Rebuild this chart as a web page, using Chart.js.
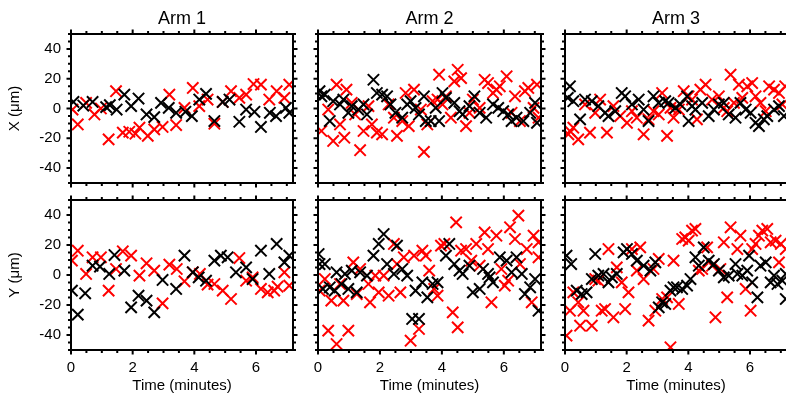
<!DOCTYPE html>
<html>
<head>
<meta charset="utf-8">
<script src="https://cdn.jsdelivr.net/npm/chart.js@4.4.1/dist/chart.umd.min.js"></script>
<style>
  html, body { margin: 0; padding: 0; background: #fff; width: 786px; height: 398px; overflow: hidden; }
  canvas { position: absolute; left: 0; top: 0; }
</style>
</head>
<body>
<script>
// Axis labels and ticks
const armTitles = ['Arm 1', 'Arm 2', 'Arm 3'];
const rowTitles = ['X (\u03bcm)', 'Y (\u03bcm)'];
const xTitle = 'Time (minutes)';
const xTicks = [0, 2, 4, 6];
const yTicks = [-40, -20, 0, 20, 40];

// Data: [time (min), displacement (um)]
const arm1_x_black = [[0.08,4.4],[0.40,2],[0.70,4.4],[1.14,0.9],[1.26,2.2],[1.48,-0.7],[1.73,9.3],[1.95,1.6],[2.19,6.7],[2.45,-4],[2.70,-5.8],[2.92,3.8],[3.17,0.4],[3.41,-2.9],[3.71,-2.2],[3.92,-5.1],[4.16,6],[4.38,9.8],[4.65,-8.4],[4.92,4.4],[5.14,6],[5.46,-8.9],[5.68,-0.7],[5.95,-2.2],[6.16,-12.4],[6.45,-2.9],[6.65,-5.1],[6.97,0.4],[7.08,-2.9]];
const arm1_x_red = [[0.05,-0.7],[0.22,-10.7],[0.49,3.8],[0.76,-4],[0.97,0],[1.22,-20.7],[1.46,11.6],[1.68,-16.2],[1.89,-15.6],[2.09,-16.9],[2.22,-12.9],[2.49,-18.4],[2.70,-14],[2.97,-12.4],[3.19,9.3],[3.41,-11.1],[3.68,0.4],[3.95,13.8],[4.16,1.6],[4.43,6],[4.65,-10.2],[4.92,4.4],[5.19,11.6],[5.46,7.1],[5.68,9.3],[5.92,16.4],[6.16,16],[6.43,6],[6.67,11.6],[6.92,7.1],[7.08,16]];

const arm2_x_black = [[0.05,11.6],[0.11,8.2],[0.22,9.3],[0.38,-8.4],[0.49,4.9],[0.71,2.7],[0.82,6],[0.98,-2.9],[1.09,1.6],[1.30,-0.7],[1.47,2.7],[1.58,-4],[1.79,19.3],[1.90,10.4],[2.07,9.3],[2.23,8.2],[2.34,2.7],[2.50,-2.9],[2.72,-6.2],[2.88,2.7],[2.99,4.9],[3.15,0.4],[3.26,-4],[3.42,8.2],[3.48,-8.4],[3.64,-8.4],[3.80,0.4],[3.91,-8.4],[4.02,10.4],[4.13,7.1],[4.40,3.8],[4.57,-1.8],[4.67,-4],[4.89,1.6],[5.05,8.2],[5.22,-2.9],[5.43,-6.2],[5.65,2.7],[5.82,0.4],[5.98,-1.8],[6.14,-4],[6.25,-8.4],[6.41,-6.2],[6.63,-8.4],[6.85,-2.9],[7.01,3.8],[7.07,-9.6]];
const arm2_x_red = [[0.11,-15.1],[0.33,-0.7],[0.49,-21.8],[0.60,16],[0.71,-10.7],[0.85,-19.6],[0.92,12.7],[1.09,3.8],[1.20,-4],[1.36,-28],[1.47,-15.1],[1.63,1.6],[1.74,-10.7],[1.90,-16.2],[2.07,-17.3],[2.28,2.7],[2.45,-6.2],[2.55,-18.4],[2.72,-8.4],[2.83,10.4],[2.93,-11.8],[3.10,12.7],[3.32,-0.7],[3.42,-29.1],[3.53,-10.7],[3.70,4.9],[3.86,6],[3.91,22.7],[4.02,2.7],[4.13,8.2],[4.29,-6.2],[4.40,18.2],[4.51,26],[4.62,20.4],[4.78,-11.8],[4.89,-2.9],[5.00,6],[5.22,0.4],[5.38,19.3],[5.49,17.1],[5.65,10.4],[5.76,12.7],[5.87,14.9],[6.09,21.6],[6.25,-2.9],[6.36,8.2],[6.52,-8.4],[6.68,11.6],[6.79,13.8],[6.96,0.4],[7.07,16],[7.12,-6.2]];

const arm3_x_black = [[0.16,14.9],[0.09,7.1],[0.27,4.9],[0.49,-7.3],[0.65,6],[0.87,4.9],[1.08,1.6],[1.30,-2.9],[1.41,-5.1],[1.63,-1.8],[1.84,10.4],[1.95,8.2],[2.17,2.7],[2.39,6],[2.55,-0.7],[2.71,-8.4],[2.87,8.2],[3.04,3.8],[3.25,4.9],[3.36,3.8],[3.58,0.4],[3.74,2.7],[3.96,8.2],[4.01,-8.4],[4.12,1.6],[4.23,-0.7],[4.45,3.8],[4.66,-5.1],[4.83,-0.7],[4.99,2.7],[5.15,3.8],[5.31,-4],[5.53,-6.2],[5.69,3.8],[5.86,-0.7],[6.02,-2.9],[6.18,-9.6],[6.29,-11.8],[6.45,-7.3],[6.56,-5.1],[6.78,-0.7],[6.94,1.6],[7.10,-5.1]];
const arm3_x_red = [[0.11,-17.3],[0.16,-15.1],[0.27,-12.9],[0.43,-20.7],[0.65,2.7],[0.81,-16.2],[0.98,-2.9],[1.14,6],[1.36,-16.2],[1.57,1.6],[1.79,-5.1],[2.01,-9.6],[2.17,-1.8],[2.33,-6.2],[2.55,-17.3],[2.71,-7.3],[2.87,-1.8],[3.04,-4],[3.15,10.4],[3.31,-18.4],[3.42,0.4],[3.52,-6.2],[3.69,-0.7],[3.85,11.6],[4.01,8.2],[4.12,6],[4.28,-7.3],[4.39,12.7],[4.56,16],[4.77,6],[4.99,8.2],[5.15,0.4],[5.26,-1.8],[5.37,22.7],[5.48,3.8],[5.64,16],[5.75,7.1],[5.91,14.9],[6.07,17.1],[6.18,8.2],[6.34,3.8],[6.51,-1.8],[6.62,14.9],[6.78,12.7],[6.94,10.4],[7.05,2.7],[7.14,14.9]];

const arm1_y_black = [[0.03,-10.4],[0.22,-26.4],[0.46,-12.2],[0.70,6.2],[0.94,5.6],[1.24,0.7],[1.41,13.3],[1.73,2.9],[1.95,-21.6],[2.19,-13.8],[2.45,-17.1],[2.70,-24.9],[2.97,-3.3],[3.41,-9.3],[3.68,12.9],[3.95,1.8],[4.14,-1.6],[4.38,-3.8],[4.65,9.6],[4.86,12.9],[5.08,11.8],[5.35,1.8],[5.68,5.1],[5.89,-2.7],[6.16,16.2],[6.43,0.7],[6.67,20.7],[6.92,8.4],[7.08,12.9]];
const arm1_y_red = [[0.03,9.6],[0.22,16.2],[0.49,0.7],[0.70,11.8],[0.97,11.8],[1.22,-10.4],[1.46,4],[1.68,15.8],[1.95,12.9],[2.22,-0.4],[2.45,7.8],[2.70,2.9],[2.97,-18.9],[3.19,6.9],[3.43,4],[3.68,-4.2],[3.95,1.8],[4.18,0.7],[4.43,-6.4],[4.65,-6],[4.92,-10.4],[5.19,-16],[5.46,11.3],[5.68,-3.8],[5.89,-1.6],[6.16,-9.3],[6.38,-11.6],[6.59,-10.4],[6.70,-7.8],[6.92,1.8],[7.08,-7.1]];

const arm2_y_black = [[0.02,14],[0.05,7.3],[0.22,7.3],[0.16,-9.3],[0.38,-8.2],[0.54,-10.4],[0.60,1.8],[0.76,-6],[0.87,0.7],[0.98,-9.3],[1.09,2.9],[1.25,-11.6],[1.36,1.8],[1.58,-0.4],[1.79,12.9],[1.96,20.7],[2.12,27.3],[2.23,7.3],[2.45,0.7],[2.55,19.6],[2.72,4],[2.88,-0.4],[3.04,-29.3],[3.15,-10.4],[3.26,-29.3],[3.37,-4.9],[3.53,-14.9],[3.70,-6],[3.86,-4.9],[4.13,12.9],[4.24,20.7],[4.40,7.3],[4.57,2.9],[4.67,0.7],[4.89,6.2],[5.00,-11.6],[5.22,-9.3],[5.33,4],[5.49,0.7],[5.54,-1.6],[5.65,-4.9],[5.87,11.8],[6.09,9.6],[6.25,1.8],[6.41,11.8],[6.58,0.7],[6.68,-12.7],[6.85,-8.2],[7.01,-2.7],[7.12,-23.8]];
const arm2_y_red = [[0.05,-10.4],[0.22,-2.7],[0.33,-37.1],[0.43,-17.1],[0.60,-46],[0.71,-6],[0.82,-17.1],[0.98,-37.1],[1.14,8.4],[1.25,-12.7],[1.36,4],[1.63,-6],[1.68,-18.2],[1.85,-0.4],[1.96,-11.6],[2.12,-0.4],[2.28,-13.8],[2.45,20.7],[2.55,7.3],[2.66,-11.6],[2.77,11.8],[2.99,-43.8],[3.10,12.9],[3.26,-36],[3.37,16.2],[3.48,12.9],[3.59,2.9],[3.75,-9.3],[3.86,-13.8],[3.97,19.6],[4.08,20.7],[4.35,-24.9],[4.46,35.1],[4.51,-34.9],[4.62,16.2],[4.78,17.3],[4.95,9.6],[5.11,20.7],[5.22,6.2],[5.38,28.4],[5.49,17.3],[5.60,-18.2],[5.76,26.2],[5.92,4],[6.03,-7.1],[6.14,-3.8],[6.20,31.8],[6.36,24],[6.47,39.6],[6.52,7.3],[6.74,17.3],[6.90,-18.2],[6.96,26.2],[7.12,21.8],[7.12,11.8]];

const arm3_y_black = [[0.05,12.9],[0.20,7.3],[0.38,-10.4],[0.54,-12.7],[0.70,-11.6],[0.87,-2.7],[0.98,14],[1.08,-0.4],[1.25,0.7],[1.41,-4.9],[1.52,-1.6],[1.68,0.7],[1.90,15.1],[2.01,17.3],[2.17,14],[2.33,9.6],[2.55,6.2],[2.77,2.9],[2.93,8.4],[3.04,-21.6],[3.15,-18.2],[3.25,-19.3],[3.42,-10.4],[3.52,-8.2],[3.63,-8.2],[3.80,-9.3],[3.96,-7.1],[4.07,-2.7],[4.23,11.8],[4.34,6.2],[4.50,18.4],[4.66,9.6],[4.83,7.3],[4.99,2.9],[5.15,-1.6],[5.31,-0.4],[5.53,7.3],[5.59,0.7],[5.75,-0.4],[5.91,2.9],[5.97,12.9],[6.07,-4.9],[6.24,-14.9],[6.34,6.2],[6.51,8.4],[6.67,-4.9],[6.78,-0.4],[6.89,-6],[7.05,-3.8],[7.16,0.7],[7.16,-16]];
const arm3_y_red = [[0.05,-40.4],[0.16,-23.8],[0.27,-11.6],[0.43,-18.2],[0.49,-33.8],[0.60,-23.8],[0.87,-33.8],[0.98,-2.7],[1.08,-3.8],[1.19,-23.8],[1.30,-22.7],[1.41,17.3],[1.57,-28.2],[1.68,5.1],[1.84,-4.9],[1.95,-22.7],[2.06,-11.6],[2.17,17.3],[2.33,2.9],[2.44,18.4],[2.55,-2.7],[2.71,-30.4],[2.87,4],[2.93,-23.8],[3.04,10.7],[3.15,-16],[3.31,-14.9],[3.42,-48.2],[3.52,9.6],[3.69,-19.3],[3.80,24],[3.90,25.1],[4.01,22.9],[4.12,29.6],[4.23,30.7],[4.34,2.9],[4.45,4],[4.61,18.4],[4.77,6.2],[4.88,-28.2],[5.04,4],[5.15,21.8],[5.26,-14.9],[5.37,31.8],[5.59,17.3],[5.69,26.2],[5.86,-9.3],[6.02,-23.8],[6.07,17.3],[6.18,20.7],[6.29,26.2],[6.40,29.6],[6.56,30.7],[6.67,21.8],[6.83,22.9],[6.94,8.4],[7.00,20.7],[7.16,17.3]];

// panel layout (pixels)
const cols = [{ l: 71, r: 293, w: 786 }, { l: 318, r: 541, w: 786 }, { l: 565, r: 787, w: 800 }];
const rows = [{ t: 34, b: 183 }, { t: 200, b: 350 }];
const FONT = "'Liberation Sans', Arial, Helvetica, sans-serif";

// box frame with outward ticks on all four sides
const frameTicks = {
    id: 'frameTicks',
    afterDatasetsDraw(chart) {
        const { ctx, chartArea: a, scales: { x, y } } = chart;
        ctx.save();
        ctx.strokeStyle = '#000';
        ctx.lineWidth = 2;
        ctx.beginPath();
        for (let t = 0; t <= 7.2; t += 0.5) {
            const px = x.getPixelForValue(t);
            const len = xTicks.includes(t) ? 4.5 : 3;
            ctx.moveTo(px, a.top); ctx.lineTo(px, a.top - len);
            ctx.moveTo(px, a.bottom); ctx.lineTo(px, a.bottom + len);
        }
        for (let v = -50; v <= 50; v += 5) {
            const py = y.getPixelForValue(v);
            const len = yTicks.includes(v) ? 4.5 : 3;
            ctx.moveTo(a.left, py); ctx.lineTo(a.left - len, py);
            ctx.moveTo(a.right, py); ctx.lineTo(a.right + len, py);
        }
        ctx.stroke();
        ctx.strokeRect(a.left, a.top, a.right - a.left, a.bottom - a.top);
        ctx.restore();
    }
};

function series(points, color) {
    return {
        data: points.map(p => ({ x: p[0], y: p[1] })),
        pointStyle: 'crossRot',
        pointRadius: 8,
        pointBorderWidth: 2,
        borderColor: color,
        backgroundColor: color
    };
}

function makePanel(ci, ri, black, red) {
    const c = cols[ci], r = rows[ri];
    const canvas = document.createElement('canvas');
    canvas.width = c.w;
    canvas.height = 398;
    document.body.appendChild(canvas);

    const yw = ci === 0 ? 71 : 0;
    const xh = ri === 1 ? 48 : 0;
    const top = ri === 0 ? 8 : r.t;

    new Chart(canvas, {
        type: 'scatter',
        data: { datasets: [series(black, '#000000'), series(red, '#ff0000')] },
        options: {
            responsive: false,
            animation: false,
            events: [],
            layout: { padding: { left: c.l - yw, right: c.w - c.r, top: top, bottom: 398 - r.b - xh } },
            plugins: {
                legend: { display: false },
                tooltip: { enabled: false },
                title: {
                    display: ri === 0,
                    text: armTitles[ci],
                    fullSize: false,
                    color: '#000',
                    font: { family: FONT, size: 18, weight: 'normal', lineHeight: 1.2 },
                    padding: { top: 0, bottom: r.t - 8 - 18 * 1.2 }
                }
            },
            scales: {
                x: {
                    type: 'linear', min: 0, max: 7.2,
                    grid: { display: false, drawTicks: false }, border: { display: false },
                    ticks: { display: ri === 1, color: '#000', font: { family: FONT, size: 15 }, padding: 9, maxRotation: 0, autoSkip: false },
                    afterBuildTicks: s => { s.ticks = xTicks.map(v => ({ value: v })); },
                    afterFit: s => { s.height = xh; },
                    title: { display: ri === 1, text: xTitle, color: '#000', font: { family: FONT, size: 15 }, padding: { top: 0, bottom: 3 } }
                },
                y: {
                    type: 'linear', min: -50, max: 50,
                    grid: { display: false, drawTicks: false }, border: { display: false },
                    ticks: { display: ci === 0, color: '#000', font: { family: FONT, size: 15 }, padding: 10 },
                    afterBuildTicks: s => { s.ticks = yTicks.map(v => ({ value: v })); },
                    afterFit: s => { s.width = yw; },
                    title: { display: ci === 0, text: rowTitles[ri], color: '#000', font: { family: FONT, size: 15 }, padding: { top: 6, bottom: 0 } }
                }
            }
        },
        plugins: [frameTicks]
    });
}

makePanel(0, 0, arm1_x_black, arm1_x_red);
makePanel(1, 0, arm2_x_black, arm2_x_red);
makePanel(2, 0, arm3_x_black, arm3_x_red);
makePanel(0, 1, arm1_y_black, arm1_y_red);
makePanel(1, 1, arm2_y_black, arm2_y_red);
makePanel(2, 1, arm3_y_black, arm3_y_red);
</script>
</body>
</html>
